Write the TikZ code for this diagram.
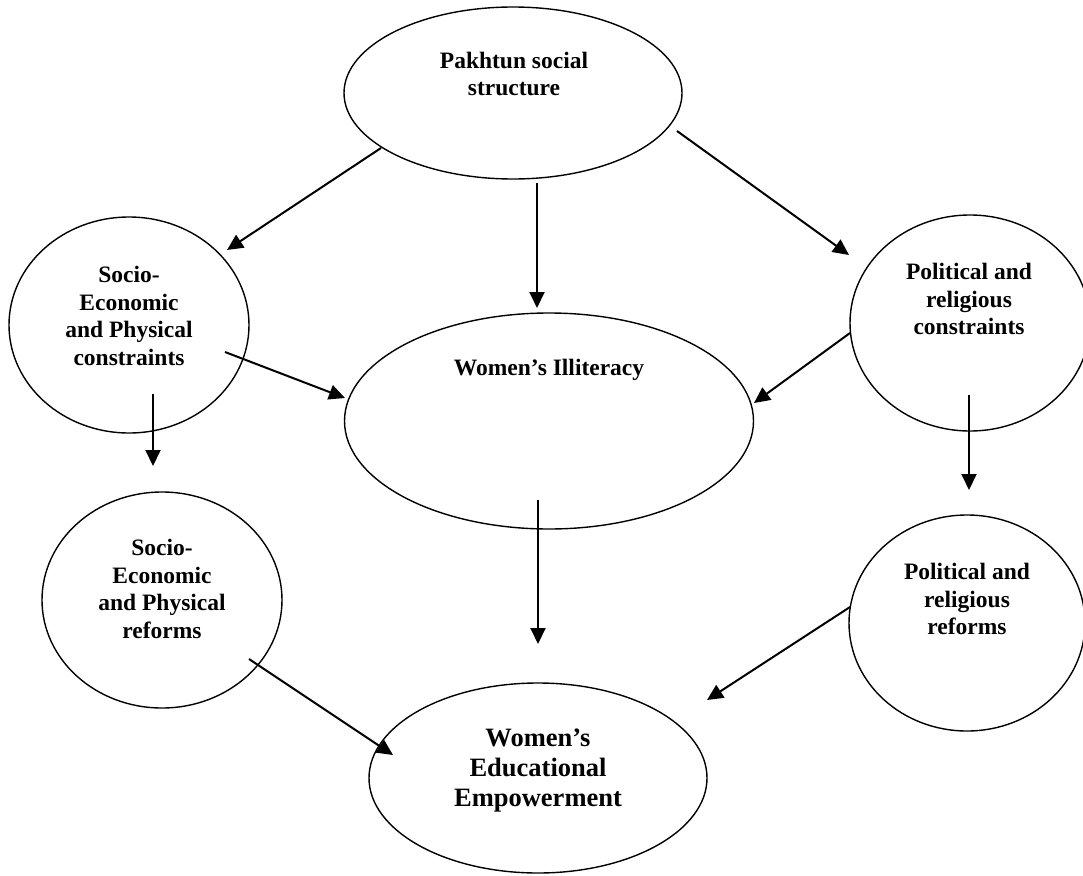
\documentclass[tikz,border=0pt]{standalone}
\usepackage{fontspec}
\setmainfont{Liberation Serif}
\usetikzlibrary{shapes.geometric,arrows.meta}
\begin{document}
\begin{tikzpicture}[x=1pt,y=-1pt,
  ell/.style={draw,ellipse,line width=1.4pt,inner sep=0pt},
  lbl/.style={align=center,font=\fontsize{23.5}{27.7}\selectfont\bfseries,inner sep=0pt},
  lblbig/.style={align=center,font=\fontsize{26.5}{30}\selectfont\bfseries,inner sep=0pt},
  arr/.style={line width=2pt,-{Triangle[length=16pt,width=15pt]}}]
\useasboundingbox (0,0) rectangle (1083,875);
% ellipses
\node[ell,minimum width=338pt,minimum height=172pt] (P)  at (513,93) {};
\node[ell,minimum width=240pt,minimum height=216pt] (SC) at (129,325) {};
\node[ell,minimum width=409pt,minimum height=216pt] (I)  at (549,421) {};
\node[ell,minimum width=240pt,minimum height=216pt] (PC) at (970,323) {};
\node[ell,minimum width=240pt,minimum height=216pt] (SR) at (162,600) {};
\node[ell,minimum width=236pt,minimum height=216pt] (PR) at (967,623) {};
\node[ell,minimum width=338pt,minimum height=190pt] (E)  at (538,778) {};
% labels
\node[lbl] (Pt)  at (514,74)  {Pakhtun social\\structure};
\node[lbl] (SCt) at (129,316) {Socio-\\Economic\\and Physical\\constraints};
\node[lbl] (It)  at (549,370) {Women’s Illiteracy};
\node[lbl] (PCt) at (969,299) {Political and\\religious\\constraints};
\node[lbl] (SRt) at (162,589) {Socio-\\Economic\\and Physical\\reforms};
\node[lbl] (PRt) at (967,599) {Political and\\religious\\reforms};
\node[lblbig] (Et) at (538,770) {Women’s\\Educational\\Empowerment};
% connector end points
\coordinate (a1s) at (381,148); \coordinate (a1e) at (227,250);
\coordinate (a2s) at (537,183); \coordinate (a2e) at (537,308);
\coordinate (a3s) at (677,131); \coordinate (a3e) at (849,255);
\coordinate (a4s) at (225,352); \coordinate (a4e) at (345,398);
\coordinate (a5s) at (850,333); \coordinate (a5e) at (754,403);
\coordinate (a6s) at (153,394); \coordinate (a6e) at (153,466);
\coordinate (a7s) at (969,395); \coordinate (a7e) at (969,490);
\coordinate (a8s) at (538,500); \coordinate (a8e) at (538,644);
\coordinate (a9s) at (249,659); \coordinate (a9e) at (393,755);
\coordinate (a10s) at (850,607); \coordinate (a10e) at (707,700);
% connectors
\draw[arr] (a1s) -- (a1e);
\draw[arr] (a2s) -- (a2e);
\draw[arr] (a3s) -- (a3e);
\draw[arr] (a4s) -- (a4e);
\draw[arr] (a5s) -- (a5e);
\draw[arr] (a6s) -- (a6e);
\draw[arr] (a7s) -- (a7e);
\draw[arr] (a8s) -- (a8e);
\draw[arr] (a9s) -- (a9e);
\draw[arr] (a10s) -- (a10e);
\end{tikzpicture}
\end{document}
